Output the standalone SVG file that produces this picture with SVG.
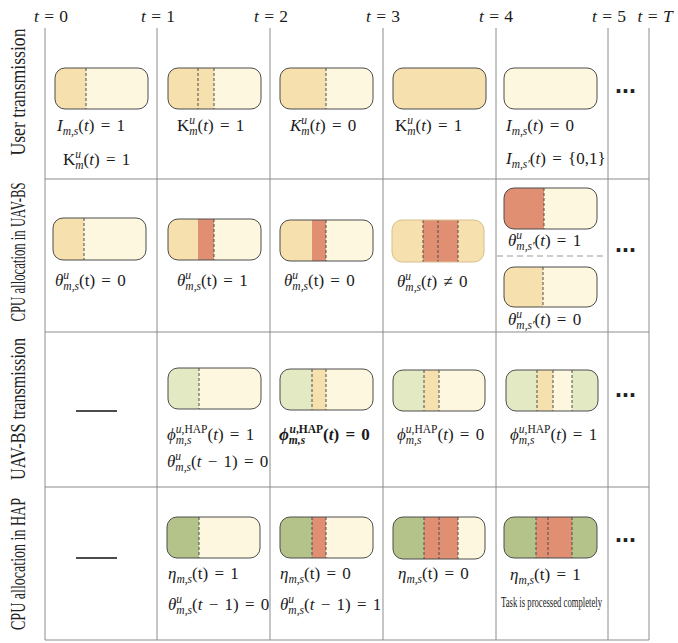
<svg xmlns="http://www.w3.org/2000/svg" width="678" height="643" viewBox="0 0 678 643">
<style>
.grid{stroke:#8c8c8c;stroke-width:1;fill:none}
.m{font-family:"Liberation Serif",serif;font-size:17px;fill:#1a1a1a;word-spacing:2px}
.h{font-family:"Liberation Serif",serif;font-size:17.5px;fill:#1a1a1a;word-spacing:1px}
.i{font-style:italic}
.s{font-size:11.5px;word-spacing:0}
.b{font-weight:bold}
.rl{font-family:"Liberation Serif",serif;font-size:21px;fill:#222}
.box{fill:none;stroke:#4d4d4d;stroke-width:1}
.dash{stroke:#4d4d4d;stroke-width:1;stroke-dasharray:3 2}
.tan{fill:#f6e0ae}.lt{fill:#fdf7df}.red{fill:#e08f72}.lg{fill:#e3e9c2}.ol{fill:#b4c38a}
.dots{font-family:"Liberation Sans",sans-serif;font-weight:bold;font-size:25px;fill:#222}
.task{font-family:"Liberation Serif",serif;font-size:14.5px;fill:#1a1a1a}
</style>
<defs>
<clipPath id="rr" clipPathUnits="objectBoundingBox"><rect x="0" y="0" width="1" height="1" rx="0.108" ry="0.244"/></clipPath>
</defs>

<g id="grid">
<line class="grid" x1="45" y1="28" x2="45" y2="640"/>
<line class="grid" x1="157" y1="28" x2="157" y2="640"/>
<line class="grid" x1="270" y1="28" x2="270" y2="640"/>
<line class="grid" x1="383" y1="28" x2="383" y2="640"/>
<line class="grid" x1="496" y1="28" x2="496" y2="640"/>
<line class="grid" x1="608" y1="28" x2="608" y2="640"/>
<line class="grid" x1="649" y1="28" x2="649" y2="640"/>
<line class="grid" x1="45" y1="179" x2="649" y2="179"/>
<line class="grid" x1="45" y1="332" x2="649" y2="332"/>
<line class="grid" x1="45" y1="487" x2="649" y2="487"/>
<line class="grid" x1="45" y1="640" x2="649" y2="640"/>
<line x1="497" y1="256" x2="607" y2="256" stroke="#999" stroke-width="1" stroke-dasharray="6 4"/>
</g>

<g id="header" class="h" text-anchor="middle">
<text x="51" y="22"><tspan class="i">t</tspan> = 0</text>
<text x="158" y="22"><tspan class="i">t</tspan> = 1</text>
<text x="271" y="22"><tspan class="i">t</tspan> = 2</text>
<text x="383" y="22"><tspan class="i">t</tspan> = 3</text>
<text x="496" y="22"><tspan class="i">t</tspan> = 4</text>
<text x="609" y="22"><tspan class="i">t</tspan> = 5</text>
<text x="655" y="22"><tspan class="i">t</tspan> = <tspan class="i">T</tspan></text>
</g>

<g id="row-labels" class="rl" text-anchor="middle">
<text transform="translate(25,92) rotate(-90)" textLength="127" lengthAdjust="spacingAndGlyphs">User transmission</text>
<text transform="translate(25,252) rotate(-90)" textLength="139" lengthAdjust="spacingAndGlyphs">CPU allocation in UAV-BS</text>
<text transform="translate(25,409) rotate(-90)" textLength="142" lengthAdjust="spacingAndGlyphs">UAV-BS transmission</text>
<text transform="translate(25,564) rotate(-90)" textLength="132" lengthAdjust="spacingAndGlyphs">CPU allocation in HAP</text>
</g>

<!-- Row 1 -->
<g id="r1c0">
<g transform="translate(55,68)"><g clip-path="url(#rr)"><rect class="lt" width="93" height="41"/><rect class="tan" width="31" height="41"/></g>
<line class="dash" x1="31" y1="0" x2="31" y2="41"/><rect class="box" width="93" height="41" rx="10"/></g>
<text class="m" x="57" y="131"><tspan class="i">I</tspan><tspan class="s i" dy="4">m,s</tspan><tspan dy="-4">(<tspan class="i">t</tspan>) = 1</tspan></text>
<text class="m" x="63" y="165">K<tspan class="s i" dy="-7">u</tspan><tspan class="s i" dx="-5.75" dy="11">m</tspan><tspan dy="-4">(<tspan class="i">t</tspan>) = 1</tspan></text>
</g>
<g id="r1c1">
<g transform="translate(168,68)"><g clip-path="url(#rr)"><rect class="lt" width="93" height="41"/><rect class="tan" width="46" height="41"/></g>
<line class="dash" x1="30" y1="0" x2="30" y2="41"/><line class="dash" x1="46" y1="0" x2="46" y2="41"/><rect class="box" width="93" height="41" rx="10"/></g>
<text class="m" x="177" y="131">K<tspan class="s i" dy="-7">u</tspan><tspan class="s i" dx="-5.75" dy="11">m</tspan><tspan dy="-4">(<tspan class="i">t</tspan>) = 1</tspan></text>
</g>
<g id="r1c2">
<g transform="translate(280,68)"><g clip-path="url(#rr)"><rect class="lt" width="93" height="41"/><rect class="tan" width="46" height="41"/></g>
<line class="dash" x1="46" y1="0" x2="46" y2="41"/><rect class="box" width="93" height="41" rx="10"/></g>
<text class="m" x="290" y="131"><tspan class="i">K</tspan><tspan class="s i" dy="-7">u</tspan><tspan class="s i" dx="-5.75" dy="11">m</tspan><tspan dy="-4">(<tspan class="i">t</tspan>) = 0</tspan></text>
</g>
<g id="r1c3">
<g transform="translate(393,68)"><rect class="box" width="93" height="41" rx="10" style="fill:#f6e0ae"/></g>
<text class="m" x="395" y="131">K<tspan class="s i" dy="-7">u</tspan><tspan class="s i" dx="-5.75" dy="11">m</tspan><tspan dy="-4">(<tspan class="i">t</tspan>) = 1</tspan></text>
</g>
<g id="r1c4">
<g transform="translate(504,68)"><rect class="box" width="93" height="41" rx="10" style="fill:#fdf7df"/></g>
<text class="m" x="506" y="131"><tspan class="i">I</tspan><tspan class="s i" dy="4">m,s</tspan><tspan dy="-4">(<tspan class="i">t</tspan>) = 0</tspan></text>
<text class="m" x="506" y="164"><tspan class="i">I</tspan><tspan class="s i" dy="4">m,s′</tspan><tspan dy="-4">(<tspan class="i">t</tspan>) = {0,1}</tspan></text>
</g>
<text id="r1dots" class="dots" x="615" y="93">...</text>

<!-- Row 2 -->
<g id="r2c0">
<g transform="translate(53,218)"><g clip-path="url(#rr)"><rect class="lt" width="93" height="42"/><rect class="tan" width="31" height="42"/></g>
<line class="dash" x1="31" y1="0" x2="31" y2="42"/><rect class="box" width="93" height="42" rx="10"/></g>
<text class="m" x="55" y="286"><tspan class="i">θ</tspan><tspan class="s i" dy="-7">u</tspan><tspan class="s i" dx="-5.75" dy="11">m,s</tspan><tspan dy="-4">(t) = 0</tspan></text>
</g>
<g id="r2c1">
<g transform="translate(168,219)"><g clip-path="url(#rr)"><rect class="lt" width="93" height="41"/><rect class="tan" width="30" height="41"/><rect class="red" x="30" width="16" height="41"/></g>
<line class="dash" x1="46" y1="0" x2="46" y2="41"/><rect class="box" width="93" height="41" rx="10"/></g>
<text class="m" x="177" y="286"><tspan class="i">θ</tspan><tspan class="s i" dy="-7">u</tspan><tspan class="s i" dx="-5.75" dy="11">m,s</tspan><tspan dy="-4">(t) = 1</tspan></text>
</g>
<g id="r2c2">
<g transform="translate(280,220)"><g clip-path="url(#rr)"><rect class="lt" width="93" height="41"/><rect class="tan" width="32" height="41"/><rect class="red" x="32" width="14" height="41"/></g>
<line class="dash" x1="46" y1="0" x2="46" y2="41"/><rect class="box" width="93" height="41" rx="10"/></g>
<text class="m" x="284" y="286"><tspan class="i">θ</tspan><tspan class="s i" dy="-7">u</tspan><tspan class="s i" dx="-5.75" dy="11">m,s</tspan><tspan dy="-4">(t) = 0</tspan></text>
</g>
<g id="r2c3">
<g transform="translate(392,220)"><g clip-path="url(#rr)"><rect class="tan" width="92" height="42"/><rect class="red" x="31" width="35" height="42"/></g>
<line class="dash" x1="31" y1="0" x2="31" y2="42"/><line class="dash" x1="46" y1="0" x2="46" y2="42"/><line class="dash" x1="66" y1="0" x2="66" y2="42"/><rect class="box" width="92" height="42" rx="10" style="stroke:#d6c08e"/></g>
<text class="m" x="397" y="287"><tspan class="i">θ</tspan><tspan class="s i" dy="-7">u</tspan><tspan class="s i" dx="-5.75" dy="11">m,s</tspan><tspan dy="-4">(<tspan class="i">t</tspan>) ≠ 0</tspan></text>
</g>
<g id="r2c4a">
<g transform="translate(504,188)"><g clip-path="url(#rr)"><rect class="lt" width="93" height="41"/><rect class="red" width="40" height="41"/></g>
<line class="dash" x1="40" y1="0" x2="40" y2="41"/><rect class="box" width="93" height="41" rx="10"/></g>
<text class="m" x="508" y="246"><tspan class="i">θ</tspan><tspan class="s i" dy="-7">u</tspan><tspan class="s i" dx="-5.75" dy="11">m,s′</tspan><tspan dy="-4">(<tspan class="i">t</tspan>) = 1</tspan></text>
</g>
<g id="r2c4b">
<g transform="translate(504,267)"><g clip-path="url(#rr)"><rect class="lt" width="93" height="40"/><rect class="tan" width="39" height="40"/></g>
<line class="dash" x1="39" y1="0" x2="39" y2="40"/><rect class="box" width="93" height="40" rx="10"/></g>
<text class="m" x="508" y="325"><tspan class="i">θ</tspan><tspan class="s i" dy="-7">u</tspan><tspan class="s i" dx="-5.75" dy="11">m,s′</tspan><tspan dy="-4">(<tspan class="i">t</tspan>) = 0</tspan></text>
</g>
<text id="r2dots" class="dots" x="615" y="252">...</text>

<!-- Row 3 -->
<g id="r3c0"><line x1="76" y1="411" x2="117" y2="411" stroke="#111" stroke-width="1.5"/></g>
<g id="r3c1">
<g transform="translate(168,368)"><g clip-path="url(#rr)"><rect class="lt" width="93" height="41"/><rect class="lg" width="31" height="41"/></g>
<line class="dash" x1="31" y1="0" x2="31" y2="41"/><rect class="box" width="93" height="41" rx="10"/></g>
<text class="m" x="167" y="440"><tspan class="i">ϕ</tspan><tspan class="s i" dy="4">m,s</tspan><tspan class="s" dx="-15.6" dy="-11"><tspan class="i">u</tspan>,HAP</tspan><tspan dy="7">(<tspan class="i">t</tspan>) = 1</tspan></text>
<text class="m" x="167" y="467"><tspan class="i">θ</tspan><tspan class="s i" dy="-7">u</tspan><tspan class="s i" dx="-5.75" dy="11">m,s</tspan><tspan dy="-4">(<tspan class="i">t</tspan> − 1) = 0</tspan></text>
</g>
<g id="r3c2">
<g transform="translate(280,369)"><g clip-path="url(#rr)"><rect class="lt" width="93" height="41"/><rect class="lg" width="32" height="41"/><rect class="tan" x="32" width="14" height="41"/></g>
<line class="dash" x1="32" y1="0" x2="32" y2="41"/><line class="dash" x1="46" y1="0" x2="46" y2="41"/><rect class="box" width="93" height="41" rx="10"/></g>
<text class="m b" x="279" y="440"><tspan class="i">ϕ</tspan><tspan class="s i" dy="4">m,s</tspan><tspan class="s" dx="-15.6" dy="-11"><tspan class="i">u</tspan>,HAP</tspan><tspan dy="7">(<tspan class="i">t</tspan>) = 0</tspan></text>
</g>
<g id="r3c3">
<g transform="translate(393,370)"><g clip-path="url(#rr)"><rect class="lt" width="92" height="41"/><rect class="lg" width="31" height="41"/><rect class="tan" x="31" width="15" height="41"/></g>
<line class="dash" x1="31" y1="0" x2="31" y2="41"/><line class="dash" x1="46" y1="0" x2="46" y2="41"/><rect class="box" width="92" height="41" rx="10"/></g>
<text class="m" x="397" y="440"><tspan class="i">ϕ</tspan><tspan class="s i" dy="4">m,s</tspan><tspan class="s" dx="-15.6" dy="-11"><tspan class="i">u</tspan>,HAP</tspan><tspan dy="7">(<tspan class="i">t</tspan>) = 0</tspan></text>
</g>
<g id="r3c4">
<g transform="translate(506,370)"><g clip-path="url(#rr)"><rect class="lg" width="92" height="41"/><rect class="tan" x="31" width="16" height="41"/><rect class="lt" x="47" width="19" height="41"/></g>
<line class="dash" x1="31" y1="0" x2="31" y2="41"/><line class="dash" x1="47" y1="0" x2="47" y2="41"/><line class="dash" x1="66" y1="0" x2="66" y2="41"/><rect class="box" width="92" height="41" rx="10"/></g>
<text class="m" x="510" y="440"><tspan class="i">ϕ</tspan><tspan class="s i" dy="4">m,s</tspan><tspan class="s" dx="-15.6" dy="-11"><tspan class="i">u</tspan>,HAP</tspan><tspan dy="7">(<tspan class="i">t</tspan>) = 1</tspan></text>
</g>
<text id="r3dots" class="dots" x="615" y="397">...</text>

<!-- Row 4 -->
<g id="r4c0"><line x1="76" y1="558" x2="117" y2="558" stroke="#111" stroke-width="1.5"/></g>
<g id="r4c1">
<g transform="translate(167,517)"><g clip-path="url(#rr)"><rect class="lt" width="93" height="41"/><rect class="ol" width="32" height="41"/></g>
<line class="dash" x1="32" y1="0" x2="32" y2="41"/><rect class="box" width="93" height="41" rx="10"/></g>
<text class="m" x="168" y="579"><tspan class="i">η</tspan><tspan class="s i" dy="4">m,s</tspan><tspan dy="-4">(t) = 1</tspan></text>
<text class="m" x="168" y="610"><tspan class="i">θ</tspan><tspan class="s i" dy="-7">u</tspan><tspan class="s i" dx="-5.75" dy="11">m,s</tspan><tspan dy="-4">(<tspan class="i">t</tspan> − 1) = 0</tspan></text>
</g>
<g id="r4c2">
<g transform="translate(280,517)"><g clip-path="url(#rr)"><rect class="lt" width="93" height="41"/><rect class="ol" width="32" height="41"/><rect class="red" x="32" width="14" height="41"/></g>
<line class="dash" x1="32" y1="0" x2="32" y2="41"/><line class="dash" x1="46" y1="0" x2="46" y2="41"/><rect class="box" width="93" height="41" rx="10"/></g>
<text class="m" x="280" y="579"><tspan class="i">η</tspan><tspan class="s i" dy="4">m,s</tspan><tspan dy="-4">(t) = 0</tspan></text>
<text class="m" x="280" y="610"><tspan class="i">θ</tspan><tspan class="s i" dy="-7">u</tspan><tspan class="s i" dx="-5.75" dy="11">m,s</tspan><tspan dy="-4">(<tspan class="i">t</tspan> − 1) = 1</tspan></text>
</g>
<g id="r4c3">
<g transform="translate(393,517)"><g clip-path="url(#rr)"><rect class="lt" width="92" height="42"/><rect class="ol" width="31" height="42"/><rect class="red" x="31" width="34" height="42"/></g>
<line class="dash" x1="31" y1="0" x2="31" y2="42"/><line class="dash" x1="46" y1="0" x2="46" y2="42"/><line class="dash" x1="65" y1="0" x2="65" y2="42"/><rect class="box" width="92" height="42" rx="10"/></g>
<text class="m" x="398" y="579"><tspan class="i">η</tspan><tspan class="s i" dy="4">m,s</tspan><tspan dy="-4">(t) = 0</tspan></text>
</g>
<g id="r4c4">
<g transform="translate(504,517)"><g clip-path="url(#rr)"><rect class="ol" width="93" height="41"/><rect class="red" x="32" width="36" height="41"/></g>
<line class="dash" x1="32" y1="0" x2="32" y2="41"/><line class="dash" x1="44" y1="0" x2="44" y2="41"/><line class="dash" x1="68" y1="0" x2="68" y2="41"/><rect class="box" width="93" height="41" rx="10"/></g>
<text class="m" x="510" y="580"><tspan class="i">η</tspan><tspan class="s i" dy="4">m,s</tspan><tspan dy="-4">(t) = 1</tspan></text>
<text class="task" x="501" y="607" textLength="101" lengthAdjust="spacingAndGlyphs">Task is processed completely</text>
</g>
<text id="r4dots" class="dots" x="615" y="542">...</text>
</svg>
